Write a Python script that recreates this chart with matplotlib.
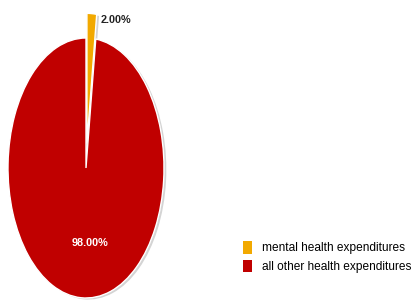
import matplotlib.pyplot as plt
from matplotlib.patches import Patch

# Data
labels = ["mental health expenditures", "all other health expenditures"]
shares = [2.0, 98.0]
colors = ["#F2A900", "#C00000"]
explode = [0.19, 0.0]

plt.rcParams['font.family'] = ['Liberation Sans Narrow', 'Liberation Sans', 'DejaVu Sans']

W, H = 414, 302
fig = plt.figure(figsize=(W / 100, H / 100), dpi=100)
# pie centre (86,168) px, rx 78, ry 130
ax = fig.add_axes([8 / W, 4 / H, 156 / W, (298 - 5.5) / H])

# soft shadow
ax.pie(shares, explode=explode, startangle=90, counterclock=False,
       colors=["#d4d4d4", "#d4d4d4"], center=(0.03, -0.012),
       wedgeprops=dict(linewidth=0))

wedges, texts, autotexts = ax.pie(
    shares, explode=explode, startangle=90, counterclock=False,
    colors=colors, autopct="%.2f%%", pctdistance=0.58,
    wedgeprops=dict(edgecolor="white", linewidth=1.0))

ax.set_aspect('auto')
ax.set_xlim(-1, 1)
ax.set_ylim(-1, 1.25)
ax.axis('off')

autotexts[0].set_position((0.385, 1.14))
autotexts[0].set_color("#222222")
autotexts[1].set_position((0.05, -0.58))
autotexts[1].set_color("white")
for t in autotexts:
    t.set_fontsize(7.8)
    t.set_fontweight('bold')

handles = [Patch(facecolor=c, edgecolor='none') for c in colors]
fig.legend(handles, labels, loc='upper left', bbox_to_anchor=(243 / W, 1 - 241 / H),
           frameon=False, fontsize=8.6, handlelength=0.75, handleheight=1.25,
           handletextpad=0.8, labelspacing=0.45, borderpad=0, borderaxespad=0)

fig.savefig("out.png", dpi=100)
